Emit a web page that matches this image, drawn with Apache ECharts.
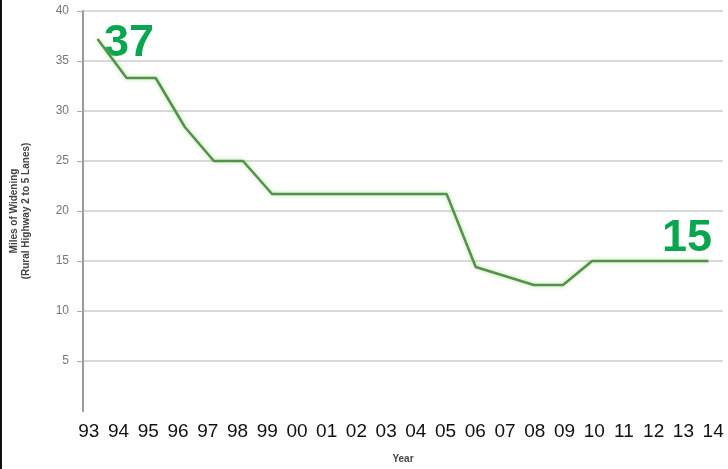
<!DOCTYPE html>
<html>
<head>
<meta charset="utf-8">
<script src="https://cdn.jsdelivr.net/npm/echarts@6/dist/echarts.min.js"></script>
<style>
  html, body { margin: 0; padding: 0; background: #fff; }
  #chart { width: 728px; height: 469px; }
  .edge { position: absolute; left: 0; top: 0; width: 2px; height: 469px; background: #111; }
</style>
</head>
<body>
<div id="chart"></div>
<div class="edge"></div>
<script>
// years shown on the x axis
const years = ['93', '94', '95', '96', '97', '98', '99', '00', '01', '02', '03',
  '04', '05', '06', '07', '08', '09', '10', '11', '12', '13', '14'];
// miles of widening
const miles = [37.2, 33.3, 33.3, 28.4, 25, 25, 21.7, 21.7, 21.7, 21.7, 21.7,
  21.7, 21.7, 14.4, 13.5, 12.6, 12.6, 15, 15, 15, 15, 15];
const startLabel = '37';
const endLabel = '15';

const chart = echarts.init(document.getElementById('chart'), null, { renderer: 'canvas' });

const font = 'Liberation Sans';

const option = {
  animation: false,
  grid: [
    { left: 79, right: 5, top: 11, bottom: 54 },
    // the year labels in the picture sit on a slightly wider spacing than the line
    { left: 74, right: -6, top: 11, bottom: 54 }
  ],
  xAxis: [{
    type: 'category',
    data: years,
    boundaryGap: true,
    name: 'Year',
    nameLocation: 'middle',
    nameGap: 43,
    nameTextStyle: { fontSize: 10, fontWeight: 'bold', color: '#444', fontFamily: font },
    axisLine: { show: false },
    axisTick: { show: false },
    axisLabel: { show: false }
  }, {
    type: 'category',
    gridIndex: 1,
    data: years,
    axisLine: { show: false },
    axisTick: { show: false },
    axisLabel: {
      interval: 0,
      margin: 7,
      fontSize: 19,
      color: '#111',
      fontFamily: font
    }
  }],
  yAxis: [{
    type: 'value',
    min: 0,
    max: 40,
    interval: 5,
    name: 'Miles of Widening\n(Rural Highway 2 to 5 Lanes)',
    nameLocation: 'middle',
    nameGap: 51,
    nameRotate: 90,
    nameTextStyle: { fontSize: 10, fontWeight: 'bold', color: '#444', fontFamily: font, lineHeight: 12 },
    axisLine: { show: true, lineStyle: { color: '#999', width: 2 } },
    axisTick: { show: true, length: 6, lineStyle: { color: '#aaa' } },
    axisLabel: {
      showMinLabel: false,
      fontSize: 12,
      color: '#777',
      margin: 14,
      fontFamily: font
    },
    splitLine: { show: true, showMinLine: false, lineStyle: { color: '#ccc', width: 1.5 } }
  }, {
    type: 'value',
    gridIndex: 1,
    show: false
  }],
  series: [{
    type: 'line',
    data: miles,
    symbol: 'none',
    lineStyle: { color: '#55914a', width: 2.5, shadowColor: 'rgba(120,210,100,0.6)', shadowBlur: 4 }
  }],
  graphic: [
    {
      type: 'text', left: 104, top: 21,
      style: { text: startLabel, fill: '#0aa54f', font: 'bold 45px "Liberation Sans"' }
    },
    {
      type: 'text', left: 662, top: 216,
      style: { text: endLabel, fill: '#0aa54f', font: 'bold 45px "Liberation Sans"' }
    }
  ]
};

chart.setOption(option);
</script>
</body>
</html>
